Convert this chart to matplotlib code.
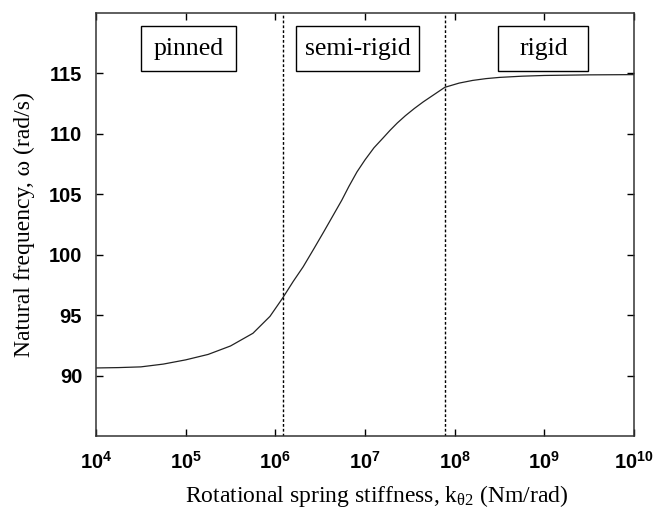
import numpy as np
import matplotlib.pyplot as plt
from matplotlib.patches import Rectangle
from matplotlib.ticker import FixedLocator, FuncFormatter, NullLocator

# curve: log10 of stiffness and natural frequency
log_k = [4.0, 4.25, 4.5, 4.75, 5.0, 5.25, 5.5, 5.75, 5.94, 6.08, 6.2, 6.31, 6.43, 6.54,
         6.64, 6.74, 6.82, 6.91, 7.0, 7.1, 7.2, 7.28, 7.36, 7.45, 7.55, 7.65, 7.78,
         7.89, 8.05, 8.2, 8.35, 8.5, 8.75, 9.0, 9.5, 10.0]
omega = [90.63, 90.66, 90.72, 90.95, 91.3, 91.75, 92.45, 93.5, 94.9, 96.4, 97.8, 99.0, 100.5, 101.9,
         103.2, 104.5, 105.65, 106.85, 107.85, 108.85, 109.65, 110.3, 110.9, 111.5, 112.1, 112.65, 113.3,
         113.85, 114.2, 114.42, 114.57, 114.67, 114.77, 114.83, 114.88, 114.9]

# region boundaries (Nm/rad)
boundaries = [1.22e6, 7.8e7]
regions = ["pinned", "semi-rigid", "rigid"]
# box edges in axes fraction
box_left = [0.083, 0.372, 0.748]
box_right = [0.261, 0.600, 0.915]
box_bottom, box_top = 0.863, 0.969

y_ticks = [90, 95, 100, 105, 110, 115]
x_exps = [4, 5, 6, 7, 8, 9, 10]

plt.rcParams["font.family"] = "Liberation Serif"

fig = plt.figure(figsize=(6.55, 5.09), dpi=100)
ax = fig.add_axes([0.1466, 0.1434, 0.8214, 0.8311])

k = [10 ** e for e in log_k]
ax.semilogx(k, omega, color="#222222", lw=0.9)

for b in boundaries:
    ax.axvline(b, color="black", lw=1.0, linestyle=(0, (2, 1.5)))

for name, l, r in zip(regions, box_left, box_right):
    ax.add_patch(Rectangle((l, box_bottom), r - l, box_top - box_bottom, transform=ax.transAxes,
                           fc="white", ec="black", lw=1.0, zorder=3))
    ax.text((l + r) / 2, (box_bottom + box_top) / 2, name, transform=ax.transAxes,
            ha="center", va="center", fontsize=18.5, zorder=4)

ax.set_xlim(1e4, 1e10)
ax.set_ylim(85, 120)
ax.xaxis.set_major_locator(FixedLocator([10 ** e for e in x_exps]))
ax.xaxis.set_minor_locator(NullLocator())
ax.xaxis.set_major_formatter(FuncFormatter(lambda v, p: r"$\mathregular{10^{%d}}$" % round(np.log10(v))))
ax.set_yticks(y_ticks)

ax.tick_params(direction="in", length=5, width=1, top=True, right=True)
ax.tick_params(axis="x", pad=11)
ax.tick_params(axis="y", pad=10)
for lab in ax.get_xticklabels() + ax.get_yticklabels():
    lab.set_fontfamily("Liberation Sans")
    lab.set_fontweight("bold")
    lab.set_fontsize(14.5)

for s in ax.spines.values():
    s.set_linewidth(1.1)
    s.set_color("#333333")

ax.set_xlabel(r"Rotational spring stiffness, k$\mathregular{_{θ2}}$ (Nm/rad)", fontsize=17)
ax.xaxis.set_label_coords(0.522, -0.112)
ax.set_ylabel("Natural frequency, ω (rad/s)", fontsize=17, labelpad=10)

fig.savefig("out.png", dpi=100)
